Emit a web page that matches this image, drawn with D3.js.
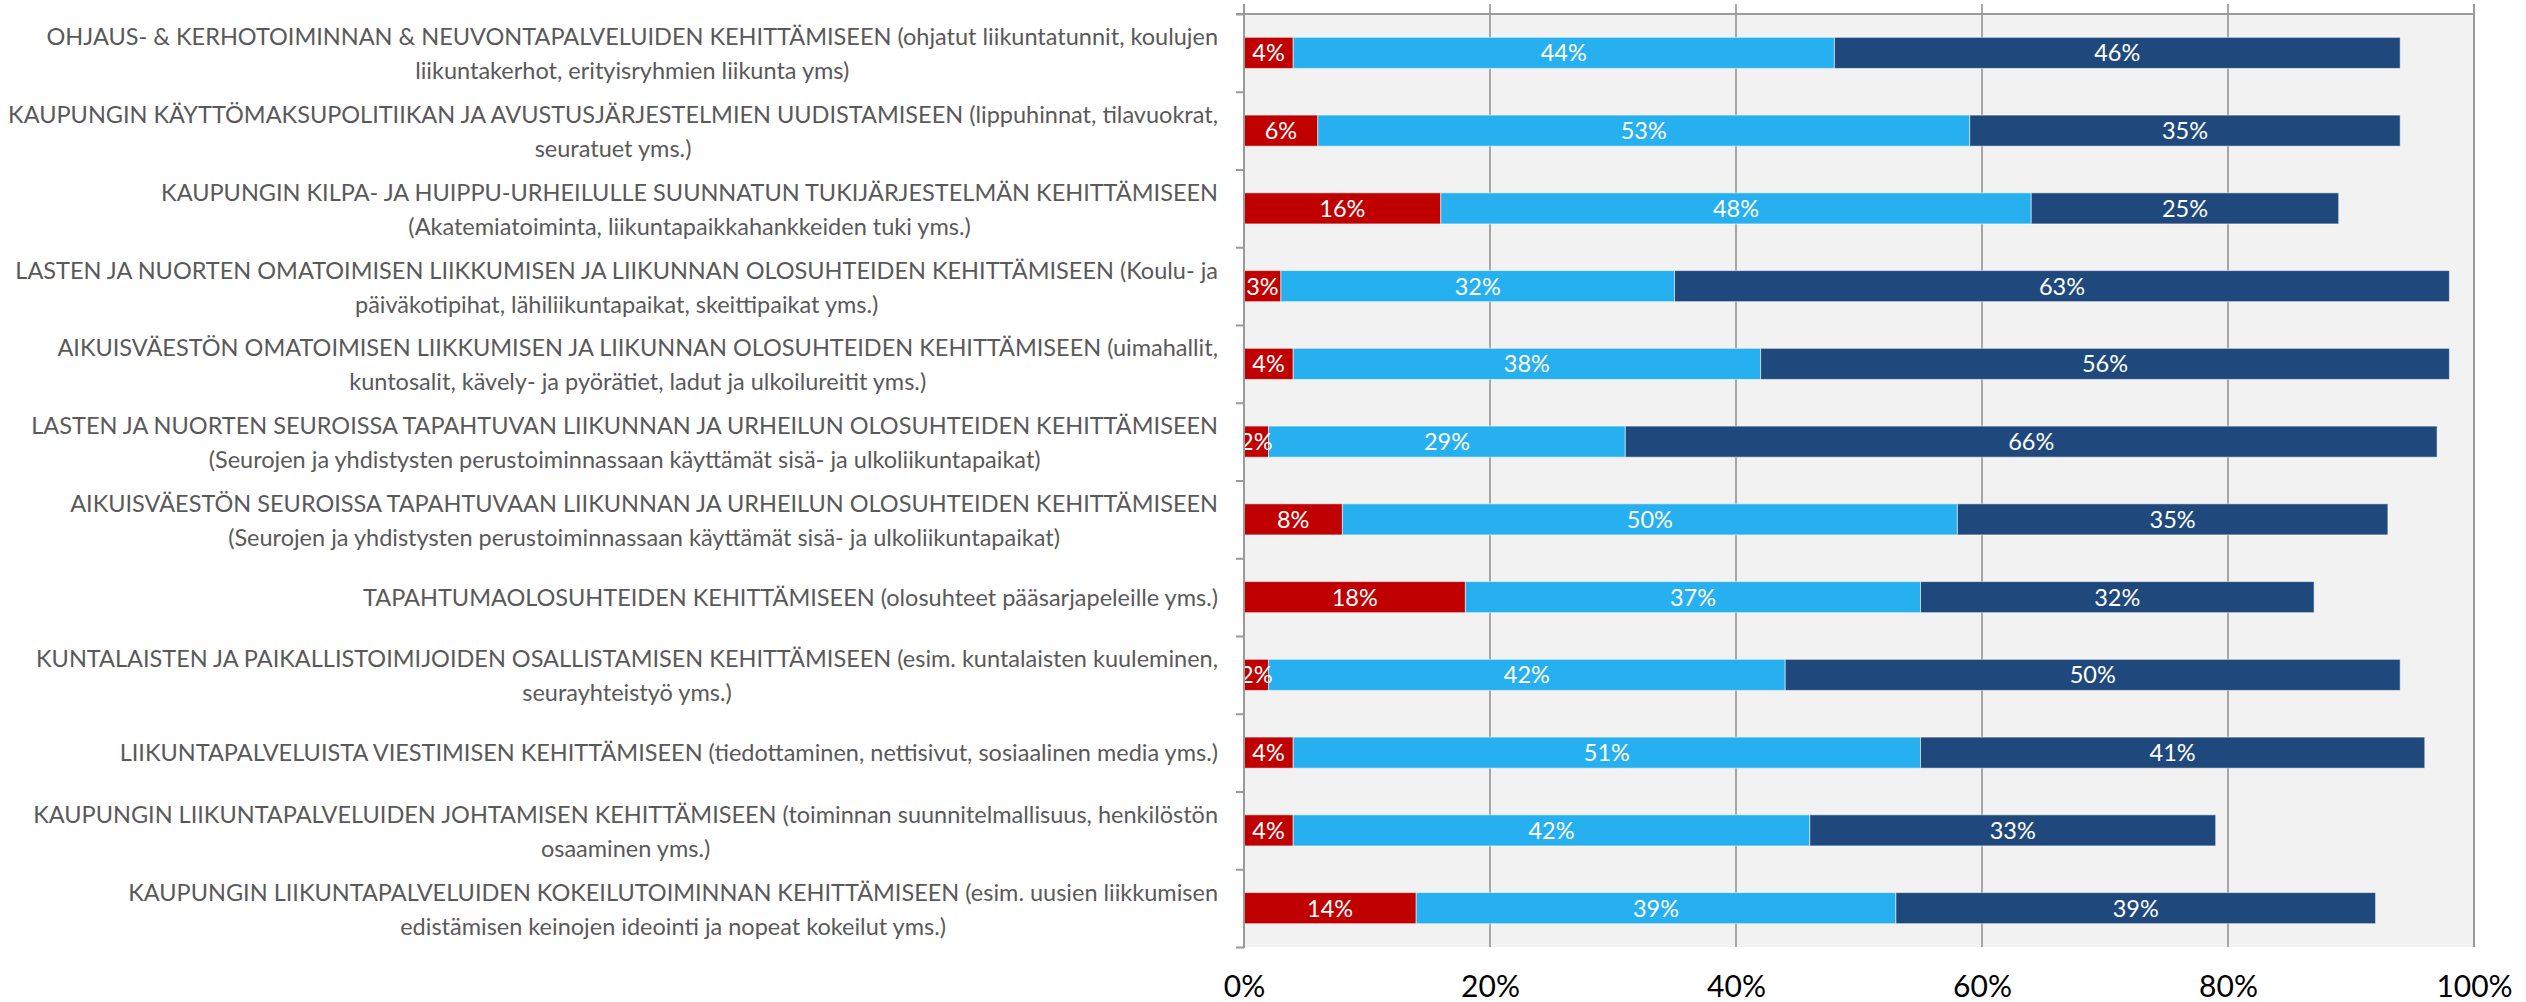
<!DOCTYPE html>
<html>
<head>
<meta charset="utf-8">
<script src="https://cdn.jsdelivr.net/npm/d3@7"></script>
<style>
  html, body { margin: 0; padding: 0; background: #ffffff; }
  svg { display: block; }
</style>
</head>
<body>
<div id="chart"></div>
<script>
// ---- DATA ----
const categories = [
  ["OHJAUS- & KERHOTOIMINNAN & NEUVONTAPALVELUIDEN KEHITTÄMISEEN (ohjatut liikuntatunnit, koulujen", "liikuntakerhot, erityisryhmien liikunta yms)"],
  ["KAUPUNGIN KÄYTTÖMAKSUPOLITIIKAN JA AVUSTUSJÄRJESTELMIEN UUDISTAMISEEN (lippuhinnat, tilavuokrat,", "seuratuet yms.)"],
  ["KAUPUNGIN KILPA- JA HUIPPU-URHEILULLE SUUNNATUN TUKIJÄRJESTELMÄN KEHITTÄMISEEN", "(Akatemiatoiminta, liikuntapaikkahankkeiden tuki yms.)"],
  ["LASTEN JA NUORTEN OMATOIMISEN LIIKKUMISEN JA LIIKUNNAN OLOSUHTEIDEN KEHITTÄMISEEN (Koulu- ja", "päiväkotipihat, lähiliikuntapaikat, skeittipaikat yms.)"],
  ["AIKUISVÄESTÖN OMATOIMISEN LIIKKUMISEN JA LIIKUNNAN OLOSUHTEIDEN KEHITTÄMISEEN (uimahallit,", "kuntosalit, kävely- ja pyörätiet, ladut ja ulkoilureitit yms.)"],
  ["LASTEN JA NUORTEN SEUROISSA TAPAHTUVAN LIIKUNNAN JA URHEILUN OLOSUHTEIDEN KEHITTÄMISEEN", "(Seurojen ja yhdistysten perustoiminnassaan käyttämät sisä- ja ulkoliikuntapaikat)"],
  ["AIKUISVÄESTÖN SEUROISSA TAPAHTUVAAN LIIKUNNAN JA URHEILUN OLOSUHTEIDEN KEHITTÄMISEEN", "(Seurojen ja yhdistysten perustoiminnassaan käyttämät sisä- ja ulkoliikuntapaikat)"],
  ["TAPAHTUMAOLOSUHTEIDEN KEHITTÄMISEEN (olosuhteet pääsarjapeleille yms.)"],
  ["KUNTALAISTEN JA PAIKALLISTOIMIJOIDEN OSALLISTAMISEN KEHITTÄMISEEN (esim. kuntalaisten kuuleminen,", "seurayhteistyö yms.)"],
  ["LIIKUNTAPALVELUISTA VIESTIMISEN KEHITTÄMISEEN (tiedottaminen, nettisivut, sosiaalinen media yms.)"],
  ["KAUPUNGIN LIIKUNTAPALVELUIDEN JOHTAMISEN KEHITTÄMISEEN (toiminnan suunnitelmallisuus, henkilöstön", "osaaminen yms.)"],
  ["KAUPUNGIN LIIKUNTAPALVELUIDEN KOKEILUTOIMINNAN KEHITTÄMISEEN (esim. uusien liikkumisen", "edistämisen keinojen ideointi ja nopeat kokeilut yms.)"]
];
const seriesRed       = [4, 6, 16, 3, 4, 2, 8, 18, 2, 4, 4, 14];
const seriesLightBlue = [44, 53, 48, 32, 38, 29, 50, 37, 42, 51, 42, 39];
const seriesDarkBlue  = [46, 35, 25, 63, 56, 66, 35, 32, 50, 41, 33, 39];
const tickValues = [0, 20, 40, 60, 80, 100];
const tickLabels = ["0%", "20%", "40%", "60%", "80%", "100%"];

const seriesList = [
  { name: "red", values: seriesRed },
  { name: "lightblue", values: seriesLightBlue },
  { name: "darkblue", values: seriesDarkBlue }
];
const colors = { red: "#C00000", lightblue: "#26B0EF", darkblue: "#1F497D" };

// ---- LAYOUT ----
const W = 2526, H = 1002;
const plotL = 1244, plotR = 2474, plotT = 14, plotB = 947;
const FONT = "Lato, 'Open Sans', sans-serif";
const LABEL_FS = 23.5;

const svg = d3.select("#chart").append("svg").attr("width", W).attr("height", H);

const x = d3.scaleLinear().domain([0, 100]).range([plotL, plotR]);
const idx = categories.map((d, i) => i);
const y = d3.scaleBand().domain(idx).range([plotT, plotB]).paddingInner(0.6).paddingOuter(0.3);
const yEdge = d3.scaleLinear().domain([0, categories.length]).range([plotT, plotB]);

// plot background
svg.append("rect").attr("x", plotL).attr("y", plotT).attr("width", plotR - plotL).attr("height", plotB - plotT)
  .attr("fill", "#F2F2F2");

// vertical gridlines (extend above top as tick marks)
svg.append("g").selectAll("line").data(tickValues.slice(1)).join("line")
  .attr("x1", d => x(d)).attr("x2", d => x(d))
  .attr("y1", 4).attr("y2", plotB)
  .attr("stroke", d => d === 100 ? "#9A9A9A" : "#8C8C8C")
  .attr("stroke-width", d => d === 100 ? 2 : 1.5);

// top axis line
svg.append("line").attr("x1", plotL - 8).attr("x2", plotR).attr("y1", plotT).attr("y2", plotT)
  .attr("stroke", "#9A9A9A").attr("stroke-width", 2);

// left axis with boundary ticks
const leftAxis = d3.axisLeft(yEdge).ticks(categories.length).tickSize(8).tickSizeOuter(0).tickFormat("");
const gl = svg.append("g").attr("transform", `translate(${plotL},0)`).call(leftAxis);
gl.select(".domain").remove();
gl.selectAll(".tick line").attr("stroke", "#9A9A9A").attr("stroke-width", 2);

// stacked bars
const stacked = categories.map((c, i) => {
  let acc = 0;
  return seriesList.map(s => {
    const v = s.values[i];
    const seg = { i, name: s.name, v, x0: acc, x1: acc + v };
    acc += v;
    return seg;
  });
}).flat();

svg.append("clipPath").attr("id", "plotclip")
  .append("rect").attr("x", plotL).attr("y", plotT).attr("width", plotR - plotL).attr("height", plotB - plotT);

const gBars = svg.append("g");
gBars.selectAll("rect").data(stacked).join("rect")
  .attr("x", d => x(d.x0)).attr("y", d => y(d.i))
  .attr("width", d => x(d.x1) - x(d.x0)).attr("height", y.bandwidth())
  .attr("fill", d => colors[d.name])
  .attr("stroke", "rgba(255,255,255,0.55)").attr("stroke-width", 1);

// value labels
svg.append("g").attr("clip-path", "url(#plotclip)").selectAll("text").data(stacked).join("text")
  .attr("x", d => x((d.x0 + d.x1) / 2))
  .attr("y", d => y(d.i) + y.bandwidth() / 2)
  .attr("dy", "0.36em")
  .attr("text-anchor", "middle")
  .attr("font-family", FONT).attr("font-size", LABEL_FS)
  .attr("fill", "#ffffff")
  .text(d => d.v + "%");

// left axis line over bars
svg.append("line").attr("x1", plotL).attr("x2", plotL).attr("y1", 4).attr("y2", plotB + 1)
  .attr("stroke", "#9A9A9A").attr("stroke-width", 2);

// category labels: block right-aligned, lines centered within block
const labelRight = 1218;
const lineGap = 34;
const gLab = svg.append("g");
categories.forEach((lines, i) => {
  const cy = y(i) + y.bandwidth() / 2 + (lines.length > 1 ? 1 : 0);
  const texts = lines.map((ln, k) =>
    gLab.append("text")
      .attr("y", cy + (k - (lines.length - 1) / 2) * lineGap)
      .attr("dy", "0.36em")
      .attr("text-anchor", "middle")
      .attr("font-family", FONT).attr("font-size", LABEL_FS)
      .attr("fill", "#595959")
      .text(ln)
  );
  const wMax = d3.max(texts, t => t.node().getComputedTextLength());
  texts.forEach(t => t.attr("x", labelRight - wMax / 2));
});

// bottom tick labels
const bottomAxis = d3.axisBottom(x).tickValues(tickValues).tickSize(0).tickPadding(29)
  .tickFormat((d, k) => tickLabels[k]);
const gb = svg.append("g").attr("transform", `translate(0,${plotB})`).call(bottomAxis);
gb.select(".domain").remove();
gb.selectAll("text").attr("font-family", FONT).attr("font-size", 30).attr("fill", "#000000");
</script>
</body>
</html>
